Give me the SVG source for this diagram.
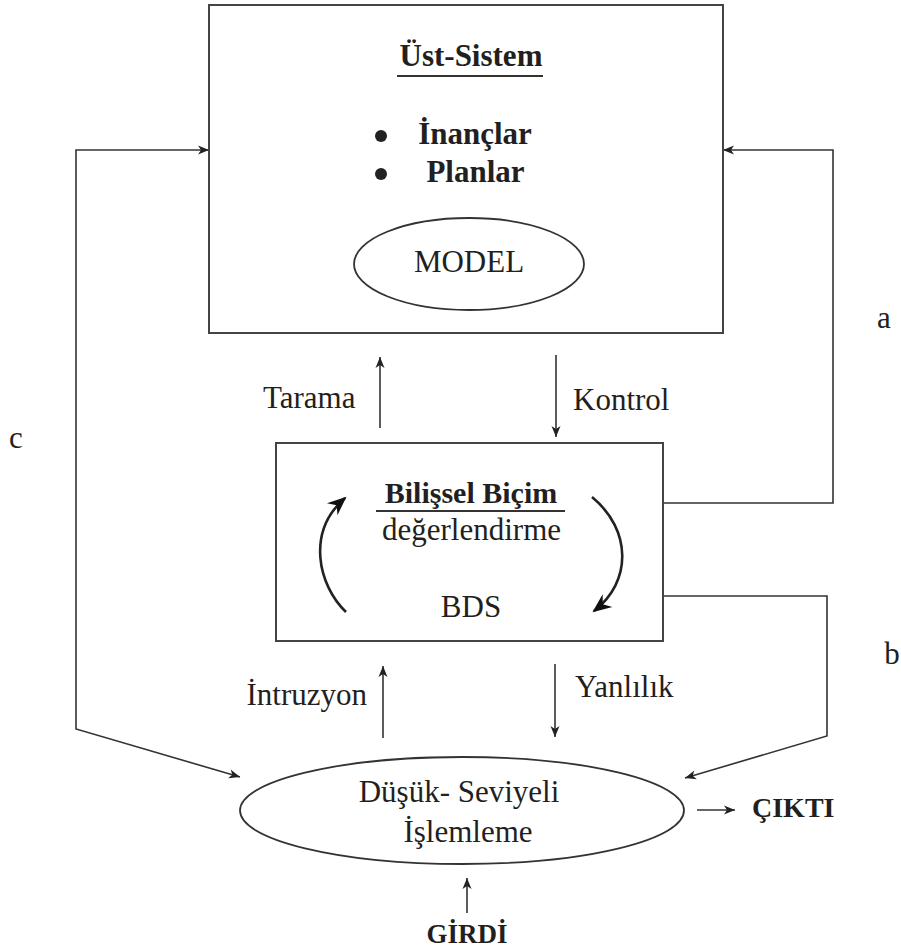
<svg xmlns="http://www.w3.org/2000/svg" width="901" height="952" viewBox="0 0 901 952">
  <style>
    .box { fill: #fff; stroke: #444; stroke-width: 2; }
    .oval { fill: none; stroke: #333; stroke-width: 1.8; }
    .t { font-family: "Liberation Serif", "Times New Roman", serif; font-size: 31px; fill: #231f20; }
    .b { font-weight: bold; }
    .mid { text-anchor: middle; }
    .end { text-anchor: end; }
    .link { fill: none; stroke: #333; stroke-width: 1.6; }
    .cycle { fill: none; stroke: #222; stroke-width: 2.6; }
    .rule { stroke: #333; stroke-width: 2; }
  </style>
  <defs>
    <marker id="head" markerUnits="userSpaceOnUse" markerWidth="14" markerHeight="12" viewBox="-12 -6 14 12" refX="0" refY="0" orient="auto-start-reverse">
      <path d="M0,0 L-11,-4.5 L-8,0 L-11,4.5 Z" fill="#222"/>
    </marker>
    <marker id="barb" markerUnits="userSpaceOnUse" markerWidth="24" markerHeight="20" viewBox="-20 -10 24 20" refX="0" refY="0" orient="auto">
      <path d="M2,0 L-17,-8 L-11,0 L-17,8 Z" fill="#111"/>
    </marker>
  </defs>

  <!-- connectors -->
  <g id="connectors">
    <line class="link" x1="380" y1="428" x2="380" y2="357" marker-end="url(#head)"/>
    <line class="link" x1="556" y1="355" x2="556" y2="437" marker-end="url(#head)"/>
    <line class="link" x1="383" y1="738" x2="383" y2="666" marker-end="url(#head)"/>
    <line class="link" x1="555" y1="664" x2="555" y2="737" marker-end="url(#head)"/>
    <line class="link" x1="467" y1="913" x2="467" y2="878" marker-end="url(#head)"/>
    <line class="link" x1="697" y1="810" x2="735" y2="810" marker-end="url(#head)"/>
    <!-- loop c -->
    <path class="link" d="M209,150 L76,150 L76,729 L240,777" marker-start="url(#head)" marker-end="url(#head)"/>
    <!-- loop a -->
    <path class="link" d="M663,503 L833,503 L833,150 L723,150" marker-end="url(#head)"/>
    <!-- loop b -->
    <path class="link" d="M663,596 L827,596 L827,736 L685,778" marker-end="url(#head)"/>
  </g>

  <!-- upper system -->
  <g id="ust-sistem">
    <rect class="box" x="209" y="5" width="514" height="328"/>
    <text class="t b mid" x="471" y="66">Üst-Sistem</text>
    <line class="rule" x1="397" y1="76" x2="543" y2="76"/>
    <circle cx="381" cy="136" r="6" fill="#222"/>
    <circle cx="381" cy="174" r="6" fill="#222"/>
    <text class="t b mid" x="475" y="144">İnançlar</text>
    <text class="t b mid" x="475.5" y="182">Planlar</text>
  </g>
  <g id="model">
    <ellipse class="oval" cx="469" cy="264" rx="115" ry="46"/>
    <text class="t mid" x="469" y="272">MODEL</text>
  </g>

  <!-- middle box -->
  <g id="bilissel-bicim">
    <rect class="box" x="276" y="443" width="387" height="198"/>
    <text class="t b mid" x="471" y="503" style="font-size:30px">Bilişsel Biçim</text>
    <line class="rule" x1="376" y1="511" x2="565" y2="511"/>
    <text class="t mid" x="471.5" y="540">değerlendirme</text>
    <text class="t mid" x="471" y="617">BDS</text>
    <path class="cycle" d="M346,612 C318,585 306,532 345,498" marker-end="url(#barb)"/>
    <path class="cycle" d="M592,497 C632,530 632,582 594,611" marker-end="url(#barb)"/>
  </g>

  <!-- lower level processing -->
  <g id="dusuk-seviyeli">
    <ellipse class="oval" cx="462" cy="810.5" rx="222" ry="53.5"/>
    <text class="t mid" x="459" y="802">Düşük- Seviyeli</text>
    <text class="t mid" x="468" y="842">İşlemleme</text>
  </g>

  <!-- labels -->
  <g id="labels">
    <text class="t" x="263" y="408">Tarama</text>
    <text class="t" x="573" y="410">Kontrol</text>
    <text class="t end" x="367" y="705">İntruzyon</text>
    <text class="t" x="575" y="697">Yanlılık</text>
    <text class="t b" x="752" y="817" style="font-size:28px">ÇIKTI</text>
    <text class="t b mid" x="467" y="943" style="font-size:27px">GİRDİ</text>
    <text class="t mid" x="884" y="328">a</text>
    <text class="t mid" x="892" y="664">b</text>
    <text class="t mid" x="16" y="448">c</text>
  </g>
</svg>
